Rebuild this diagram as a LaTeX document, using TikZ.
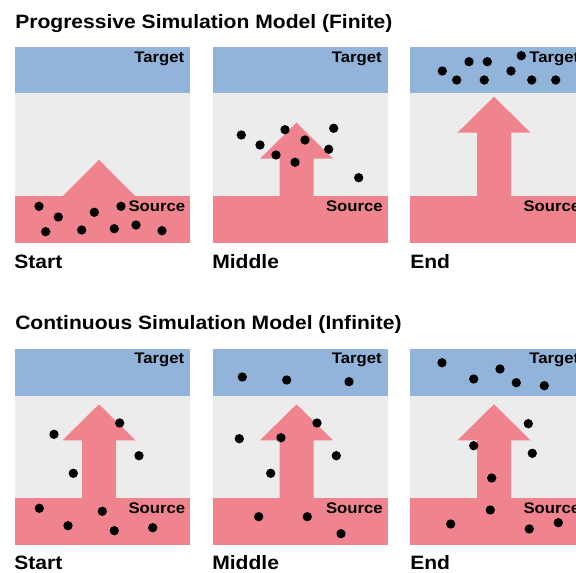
\documentclass[tikz,border=0pt]{standalone}
\usepackage{fontspec}
\setmainfont[FakeStretch=1.09]{Liberation Sans}
\definecolor{tgtblue}{RGB}{146,180,218}
\definecolor{srcpink}{RGB}{240,132,142}
\definecolor{midgray}{RGB}{236,236,236}
\newcommand\simpanel[3]{% #1 suffix, #2 left, #3 top
  \fill[midgray] (#2,#3) rectangle ++(175.4,149.3);
  \fill[tgtblue] (#2,#3) rectangle ++(175.4,46.7);
  \fill[srcpink] ({#2},{#3+149.3}) rectangle ++(175.4,46.7);
}
\newcommand\headonly[2]{% left, top
  \fill[srcpink] ({#1+84-36.5},{#2+149.8}) -- ({#1+84},{#2+113.3}) -- ({#1+84+36.5},{#2+149.8}) -- cycle;
}
\newcommand\fullarrow[3]{% left, top, apex offset
  \fill[srcpink] ({#1+84-17},{#2+149.8}) -- ({#1+84-17},{#2+#3+36}) -- ({#1+84-36.5},{#2+#3+36})
    -- ({#1+84},{#2+#3}) -- ({#1+84+36.5},{#2+#3+36}) -- ({#1+84+17},{#2+#3+36})
    -- ({#1+84+17},{#2+149.8}) -- cycle;
}
\tikzset{
  lbl/.style={font=\fontsize{11.5}{13}\selectfont\bfseries, inner sep=0pt, anchor=base east},
  ttl/.style={font=\fontsize{14.5}{16}\selectfont\bfseries, inner sep=0pt, anchor=base west},
  dot/.style={fill=black}
}
\begin{document}
\begin{tikzpicture}[x=0.75pt,y=-0.75pt]
\useasboundingbox (0,0) rectangle (576,573);
\clip (0,0) rectangle (576,573);
% row 1
\simpanel{a}{15}{46.7}
\simpanel{b}{212.5}{46.7}
\simpanel{c}{410}{46.7}
\headonly{15}{46.7}
\fullarrow{212.5}{46.7}{76}
\fullarrow{410}{46.7}{50}
% row 2
\simpanel{d}{15}{349}
\simpanel{e}{212.5}{349}
\simpanel{f}{410}{349}
\fullarrow{15}{349}{55.3}
\fullarrow{212.5}{349}{55.3}
\fullarrow{410}{349}{55.3}
% titles
\node[ttl] (title1) at (15,28.3) {Progressive Simulation Model (Finite)};
\node[ttl] (title2) at (15,330) {Continuous Simulation Model (Infinite)};
% stage labels
\node[ttl] (st1) at (14,268.3) {Start};
\node[ttl] (st2) at (212,268.3) {Middle};
\node[ttl] (st3) at (410,268.3) {End};
\node[ttl] (st4) at (14,569.3) {Start};
\node[ttl] (st5) at (212,569.3) {Middle};
\node[ttl] (st6) at (410,569.3) {End};
% target/source labels
\foreach \l/\n in {15/a,212.5/b,410/c}{
  \node[lbl] (tgt\n) at (\l+169.5,62.7) {Target};
  \node[lbl] (src\n) at (\l+170.5,211.7) {Source};
}
\foreach \l/\n in {15/d,212.5/e,410/f}{
  \node[lbl] (tgt\n) at (\l+169.5,364) {Target};
  \node[lbl] (src\n) at (\l+170.5,513.3) {Source};
}
% dots
\foreach \x/\y in {39/206.3,58.3/217,45.7/231.7,81.7/230,94.3/212.3,114.3/228.7,121/206.3,136/225,162/230.7,
  241.3/135,260/145,285/129.7,305/140,276/155,295/162.3,333.7/128.3,328.7/149.3,358.7/177.7,
  442.3/71,456.7/80,469/61.7,487.3/61.7,484.3/80,511/71,521.3/55.7,531.7/80,555.7/80,
  54/434.3,119.7/423,139/455.7,73.3/473.3,39.3/508.3,102.3/511.3,68/525.7,114.3/530.7,152.7/527.7,
  242.3/377,286.7/380,349/381.7,239.3/438.7,281/437.7,317/423,336.3/455.7,270.7/473.3,258.7/516.7,307.3/516.7,341/533.7,
  442/362.7,500/369,473.7/379,516.3/382.7,544.3/385.7,528.3/423.7,473.7/445.7,532.3/453.3,491.7/478,490.3/510,450.7/524,529.3/529,558.3/522.7}
  \fill[dot] (\x,\y) circle[radius=3.5pt];
\end{tikzpicture}
\end{document}
